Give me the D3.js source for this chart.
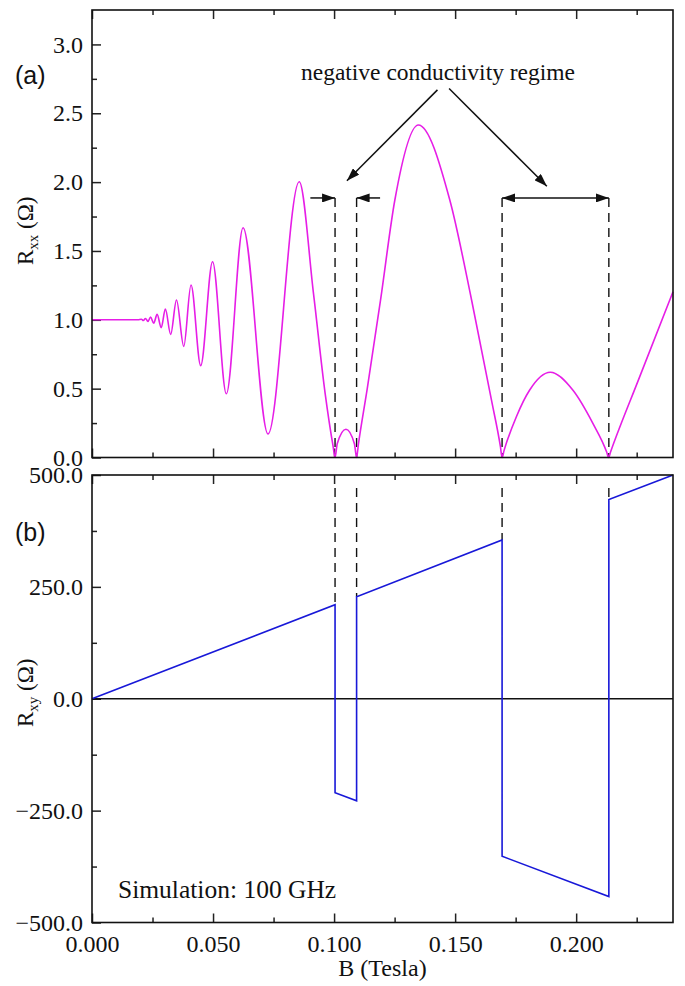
<!DOCTYPE html>
<html>
<head>
<meta charset="utf-8">
<script src="https://cdn.jsdelivr.net/npm/d3@7"></script>
<style>
  body { margin: 0; background: #fff; }
  svg text { font-family: "Liberation Serif", "Times New Roman", serif; fill: #111; }
</style>
</head>
<body>
<svg width="685" height="986"></svg>
<script>
// B (Tesla) and Rxx (Ohm)
const rxxB = [0, 0.0190, 0.0204, 0.0212, 0.0221, 0.0231, 0.0242, 0.0255, 0.0269, 0.0286,
  0.0303, 0.0325, 0.0349, 0.0379, 0.0409, 0.0449, 0.0498, 0.0555, 0.0624, 0.0727,
  0.0856, 0.0915, 0.0963, 0.0996, 0.1004, 0.1013, 0.1049, 0.1084, 0.1093, 0.1100,
  0.1137, 0.1192, 0.1251, 0.1348, 0.1478, 0.1568, 0.1650, 0.1687, 0.1694, 0.1702,
  0.1753, 0.1808, 0.1893, 0.1986, 0.2069, 0.2126, 0.2134, 0.2142, 0.2261, 0.2400];
const rxxV = [1.0, 1.0, 1.004, 0.995, 1.01, 0.988, 1.02, 0.975, 1.04, 0.943,
  1.078, 0.894, 1.144, 0.807, 1.253, 0.667, 1.422, 0.463, 1.669, 0.171,
  2.003, 1.19, 0.466, 0.08, 0.0, 0.10, 0.205, 0.10, 0.0, 0.09,
  0.50, 1.144, 1.870, 2.415, 1.870, 1.144, 0.418, 0.08, 0.0, 0.05,
  0.296, 0.49, 0.619, 0.49, 0.248, 0.04, 0.0, 0.04, 0.58, 1.204];

// B (Tesla) and Rxy (Ohm)
const rxyB = [0, 0.1004, 0.1004, 0.1093, 0.1093, 0.1694, 0.1694, 0.2135, 0.2135, 0.2400];
const rxyV = [0, 210, -210, -228, 228, 355, -352, -442, 445, 500];

// sign changes (dashed markers) and the Rxy value at each jump top
const jumpB = [0.1004, 0.1093, 0.1694, 0.2135];
const jumpTop = [210, 228, 355, 445];
const markLevel = 1.885;

const xMajor = [0, 0.05, 0.1, 0.15, 0.2];
const xMinor = [0.025, 0.075, 0.125, 0.175, 0.225];
const aMajor = [0, 0.5, 1.0, 1.5, 2.0, 2.5, 3.0];
const aMinor = [0.25, 0.75, 1.25, 1.75, 2.25, 2.75];
const bMajor = [-500, -250, 0, 250, 500];
const bMinor = [-375, -125, 125, 375];

const left = 92, right = 673;
const aTop = 10, aBot = 457.5, bTop = 475, bBot = 922.5;
const serif = "'Liberation Serif', 'Times New Roman', serif";

const svg = d3.select("svg");

const x = d3.scaleLinear().domain([0, 0.24]).range([left, right]);
const ya = d3.scaleLinear().domain([0, 3.25]).range([aBot, aTop]);
const yb = d3.scaleLinear().domain([-500, 500]).range([bBot, bTop]);

// arrow heads
const defs = svg.append("defs");
defs.append("marker")
  .attr("id", "head")
  .attr("markerUnits", "userSpaceOnUse")
  .attr("viewBox", "0 0 13 9")
  .attr("refX", 13).attr("refY", 4.5)
  .attr("markerWidth", 13).attr("markerHeight", 9)
  .attr("orient", "auto-start-reverse")
  .append("path").attr("d", "M0,0L13,4.5L0,9Z").attr("fill", "#111");

// axes helper
function addAxis(axisFn, scale, values, size, transform, labels, fmt, pad) {
  const ax = axisFn(scale).tickValues(values).tickSizeInner(-size).tickSizeOuter(0).tickPadding(pad || 9);
  ax.tickFormat(labels ? fmt : "");
  const g = svg.append("g").attr("transform", transform).call(ax);
  g.select(".domain").remove();
  g.selectAll(".tick line").attr("stroke", "#222").attr("stroke-width", 1.5);
  g.selectAll(".tick text")
    .style("font-family", serif)
    .style("font-size", "24px")
    .attr("fill", "#111");
  return g;
}

// panel (a) axes
addAxis(d3.axisLeft, ya, aMajor, 9, `translate(${left},0)`, true, d3.format(".1f"));
addAxis(d3.axisLeft, ya, aMinor, 5, `translate(${left},0)`, false);
addAxis(d3.axisBottom, x, xMajor, 9, `translate(0,${aBot})`, false);
addAxis(d3.axisBottom, x, xMinor, 5, `translate(0,${aBot})`, false);
addAxis(d3.axisTop, x, xMajor, 9, `translate(0,${aTop})`, false);
addAxis(d3.axisTop, x, xMinor, 5, `translate(0,${aTop})`, false);

// panel (b) axes
addAxis(d3.axisLeft, yb, bMajor, 9, `translate(${left},0)`, true, d3.format(".1f"));
addAxis(d3.axisLeft, yb, bMinor, 5, `translate(${left},0)`, false);
addAxis(d3.axisBottom, x, xMajor, 9, `translate(0,${bBot})`, true, d3.format(".3f"), 12);
addAxis(d3.axisBottom, x, xMinor, 5, `translate(0,${bBot})`, false);
addAxis(d3.axisTop, x, xMajor, 9, `translate(0,${bTop})`, false);
addAxis(d3.axisTop, x, xMinor, 5, `translate(0,${bTop})`, false);

// zero line in (b)
svg.append("line")
  .attr("x1", left).attr("x2", right)
  .attr("y1", yb(0)).attr("y2", yb(0))
  .attr("stroke", "#111").attr("stroke-width", 1.3);

// dashed markers
jumpB.forEach((b, i) => {
  svg.append("line")
    .attr("x1", x(b)).attr("x2", x(b))
    .attr("y1", ya(markLevel)).attr("y2", aBot)
    .attr("stroke", "#111").attr("stroke-width", 1.4)
    .attr("stroke-dasharray", "9,6");
  svg.append("line")
    .attr("x1", x(b)).attr("x2", x(b))
    .attr("y1", bTop + 13).attr("y2", yb(jumpTop[i]))
    .attr("stroke", "#111").attr("stroke-width", 1.4)
    .attr("stroke-dasharray", "9,6");
});

// curves
const rxx = rxxB.map((b, i) => [b, rxxV[i]]);
const rxy = rxyB.map((b, i) => [b, rxyV[i]]);

svg.append("path")
  .datum(rxx)
  .attr("fill", "none")
  .attr("stroke", "#e61ee6")
  .attr("stroke-width", 1.6)
  .attr("d", d3.line().x((d) => x(d[0])).y((d) => ya(d[1])).curve(d3.curveMonotoneX));

svg.append("path")
  .datum(rxy)
  .attr("fill", "none")
  .attr("stroke", "#1818d8")
  .attr("stroke-width", 1.6)
  .attr("d", d3.line().x((d) => x(d[0])).y((d) => yb(d[1])));

// frames
[[aTop, aBot], [bTop, bBot]].forEach(([t, b]) => {
  svg.append("rect")
    .attr("x", left).attr("y", t)
    .attr("width", right - left).attr("height", b - t)
    .attr("fill", "none").attr("stroke", "#111").attr("stroke-width", 1.6);
});

// annotation arrows
function arrow(x1, y1, x2, y2, both) {
  const l = svg.append("line")
    .attr("x1", x1).attr("y1", y1).attr("x2", x2).attr("y2", y2)
    .attr("stroke", "#111").attr("stroke-width", 1.5)
    .attr("marker-end", "url(#head)");
  if (both) l.attr("marker-start", "url(#head)");
}
const ym = ya(markLevel);
arrow(x(0.0902), ym, x(jumpB[0]), ym);
arrow(x(0.1190), ym, x(jumpB[1]), ym);
arrow(x(jumpB[2]), ym, x(jumpB[3]), ym, true);
arrow(x(0.1427), ya(2.67), x(0.1053), ya(2.01));
arrow(x(0.1475), ya(2.68), x(0.1879), ya(1.97));

svg.append("text")
  .attr("x", 438).attr("y", 80)
  .attr("text-anchor", "middle")
  .attr("font-size", 23.5)
  .text("negative conductivity regime");

// panel labels
svg.append("text").attr("x", 15).attr("y", 84)
  .style("font-family", "'Liberation Sans', Arial, sans-serif")
  .attr("font-size", 25).text("(a)");
svg.append("text").attr("x", 15).attr("y", 541)
  .style("font-family", "'Liberation Sans', Arial, sans-serif")
  .attr("font-size", 25).text("(b)");

// axis titles
function yTitle(cx, cy, sub) {
  const t = svg.append("text")
    .attr("text-anchor", "middle")
    .attr("font-size", 23)
    .attr("transform", `translate(${cx},${cy})rotate(-90)`);
  t.append("tspan").text("R");
  t.append("tspan").attr("font-size", 15).attr("dy", 5).text(sub);
  t.append("tspan").attr("dy", -5).text(" (\u03A9)");
}
yTitle(33, (aTop + aBot) / 2 - 3, "xx");
yTitle(33, (bTop + bBot) / 2 - 6, "xy");

svg.append("text")
  .attr("x", (left + right) / 2).attr("y", 976)
  .attr("text-anchor", "middle")
  .attr("font-size", 24)
  .text("B (Tesla)");

svg.append("text")
  .attr("x", 118).attr("y", 898)
  .attr("font-size", 25.5)
  .text("Simulation: 100 GHz");
</script>
</body>
</html>
